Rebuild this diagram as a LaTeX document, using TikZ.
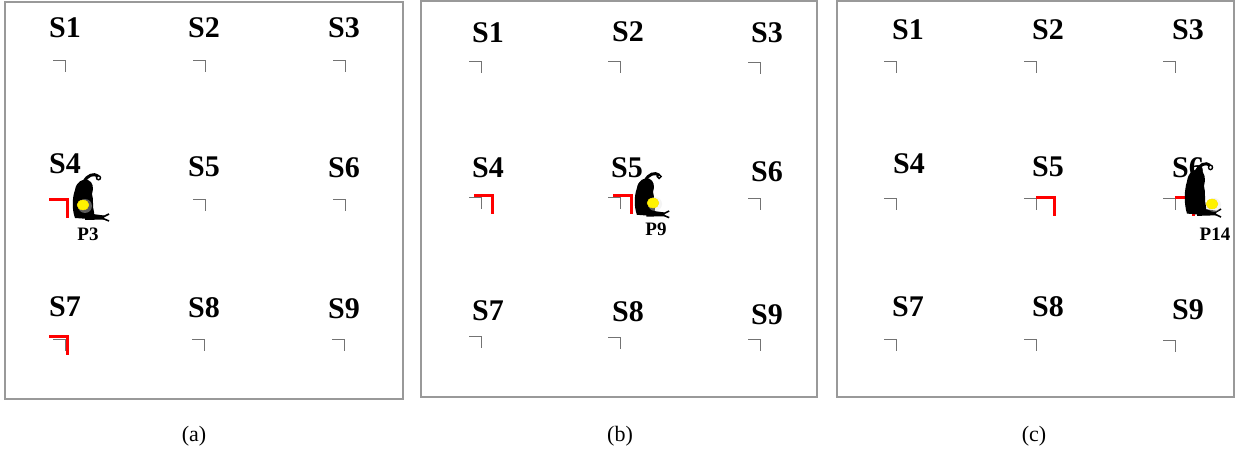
\documentclass[tikz,border=0pt]{standalone}
\usepackage{fontspec}
\setmainfont{Liberation Serif}

\tikzset{
  zone/.style={font=\fontsize{30}{30}\selectfont\bfseries, inner sep=0pt},
  ptag/.style={font=\fontsize{19}{19}\selectfont\bfseries, inner sep=0pt},
  subcap/.style={font=\fontsize{22}{22}\selectfont, inner sep=0pt},
  panel/.style={draw=black!40, line width=1.4pt},
  gmark/.pic={\draw[black!55, line width=1pt] (-12,0) -- (0,0) -- (0,11);},
  rmark/.pic={\draw[red, line width=3pt] (-18,0) -- (0,0) -- (0,18);},
  sitter/.pic={
    % body and head
    \fill (2,44) .. controls (-1,36) and (-1,24) .. (2,16) .. controls (3,8) and (10,4) .. (15,6)
          .. controls (20,8) and (21,14) .. (19,20) .. controls (21,26) and (19,32) .. (21,38)
          .. controls (22,42) and (19,45) .. (16,45) -- cycle;
    % raised arm with the hooked hand
    \draw[line width=3pt] (11,8) .. controls (14,1) and (21,-1) .. (25,2);
    \draw[line width=1.4pt] (25.5,3.8) circle (2pt);
    % legs stretched out on the floor
    \fill (12,39) -- (31,41.5) -- (31,45.5) -- (12,46) -- cycle;
    \draw[line width=1.6pt] (30,43) -- (36,40) (30,44.5) -- (36,47);
  },
  ball/.style={fill=yellow, draw=yellow!80!orange, line width=0.3pt},
}

\begin{document}
\begin{tikzpicture}[x=1pt, y=-1pt]
    \useasboundingbox[fill=white] (0,0) rectangle (1251,454);

    % Three room layouts
    \draw[panel] (5,2) rectangle (403,399);
    \draw[panel] (421,1) rectangle (817,397);
    \draw[panel] (837,1) rectangle (1234,397);

    % (a) sensor zones
    \node[zone] (a1) at (65,28) {S1};
    \node[zone] (a2) at (204,28) {S2};
    \node[zone] (a3) at (344,28) {S3};
    \node[zone] (a4) at (65,164) {S4};
    \node[zone] (a5) at (204,167) {S5};
    \node[zone] (a6) at (344,168) {S6};
    \node[zone] (a7) at (65,307) {S7};
    \node[zone] (a8) at (204,308) {S8};
    \node[zone] (a9) at (344,309) {S9};

    \pic at (65,61) {gmark};
    \pic at (205,61) {gmark};
    \pic at (345,61) {gmark};
    \pic at (205,200) {gmark};
    \pic at (345,200) {gmark};
    \pic at (65,340) {gmark};
    \pic at (204,340) {gmark};
    \pic at (344,340) {gmark};
    \pic at (67,200) {rmark};
    \pic at (67,337) {rmark};

    % (a) person
    \pic at (73,174) {sitter};
    \fill[black!10, opacity=.4] (85,206) circle (7pt);
    \fill[ball] (83,205) ellipse [x radius=6pt, y radius=5pt];
    \node[ptag] (pa) at (88,234) {P3};

    % (b) sensor zones
    \node[zone] (b1) at (488,33) {S1};
    \node[zone] (b2) at (628,32) {S2};
    \node[zone] (b3) at (767,33) {S3};
    \node[zone] (b4) at (488,168) {S4};
    \node[zone] (b5) at (627,168) {S5};
    \node[zone] (b6) at (767,172) {S6};
    \node[zone] (b7) at (488,311) {S7};
    \node[zone] (b8) at (628,312) {S8};
    \node[zone] (b9) at (767,315) {S9};

    \pic at (481,62) {gmark};
    \pic at (620,62) {gmark};
    \pic at (760,63) {gmark};
    \pic at (481,198) {gmark};
    \pic at (620,198) {gmark};
    \pic at (760,199) {gmark};
    \pic at (481,337) {gmark};
    \pic at (620,338) {gmark};
    \pic at (760,340) {gmark};
    \pic at (492,196) {rmark};
    \pic at (631,196) {rmark};

    % (b) person
    \pic[scale=0.95] at (635,173) {sitter};
    \fill[black!10, opacity=.4] (655,204) circle (7pt);
    \fill[ball] (653,203) ellipse [x radius=6pt, y radius=5pt];
    \node[ptag] (pb) at (656,229) {P9};

    % (c) sensor zones
    \node[zone] (c1) at (908,30) {S1};
    \node[zone] (c2) at (1048,30) {S2};
    \node[zone] (c3) at (1188,30) {S3};
    \node[zone] (c4) at (909,164) {S4};
    \node[zone] (c5) at (1048,167) {S5};
    \node[zone] (c6) at (1188,168) {S6};
    \node[zone] (c7) at (908,307) {S7};
    \node[zone] (c8) at (1048,307) {S8};
    \node[zone] (c9) at (1188,310) {S9};

    \pic at (896,62) {gmark};
    \pic at (1036,62) {gmark};
    \pic at (1175,62) {gmark};
    \pic at (896,199) {gmark};
    \pic at (1036,199) {gmark};
    \pic at (1175,199) {gmark};
    \pic at (896,340) {gmark};
    \pic at (1036,340) {gmark};
    \pic at (1175,341) {gmark};
    \pic at (1054,198) {rmark};
    \pic at (1193,198) {rmark};

    % (c) person
    \pic[xscale=1, yscale=1.15] at (1185,163) {sitter};
    \fill[black!10, opacity=.4] (1214,205) circle (7pt);
    \fill[ball] (1212,204) ellipse [x radius=6pt, y radius=5pt];
    \node[ptag] (pc) at (1215,234) {P14};

    % captions
    \node[subcap] (capa) at (194,436) {(a)};
    \node[subcap] (capb) at (620,436) {(b)};
    \node[subcap] (capc) at (1034,436) {(c)};
\end{tikzpicture}
\end{document}
